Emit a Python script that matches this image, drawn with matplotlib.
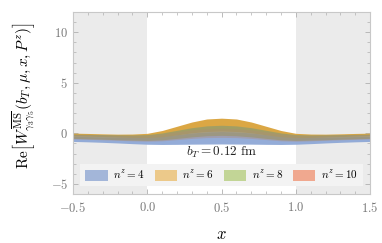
import matplotlib
matplotlib.use("Agg")
import matplotlib.pyplot as plt
from matplotlib.patches import Patch
from matplotlib.ticker import MultipleLocator

plt.rcParams['mathtext.fontset'] = 'cm'
plt.rcParams['font.family'] = ['DejaVu Serif']

x = [-0.5, -0.4, -0.3, -0.2, -0.1, 0.0, 0.1, 0.2, 0.3, 0.4, 0.5,
     0.6, 0.7, 0.8, 0.9, 1.0, 1.1, 1.2, 1.3, 1.4, 1.5]

labels = [r'$n^z=4$', r'$n^z=6$', r'$n^z=8$', r'$n^z=10$']

# band lower / upper edges
lo4 = [-0.8, -0.84, -0.89, -0.95, -1.02, -1.08, -1.1, -1.09, -1.07, -1.06, -1.05,
       -1.06, -1.07, -1.09, -1.1, -1.08, -1.02, -0.95, -0.89, -0.84, -0.8]
hi4 = [-0.3, -0.32, -0.35, -0.37, -0.38, -0.36, -0.28, -0.12, 0.04, 0.14, 0.18,
       0.14, 0.04, -0.12, -0.28, -0.36, -0.38, -0.37, -0.35, -0.32, -0.3]
lo6 = [-0.25, -0.28, -0.32, -0.37, -0.41, -0.42, -0.34, -0.15, 0.05, 0.18, 0.22,
       0.18, 0.05, -0.15, -0.34, -0.42, -0.41, -0.37, -0.32, -0.28, -0.25]
hi6 = [0.02, -0.01, -0.05, -0.08, -0.07, 0.0, 0.28, 0.7, 1.12, 1.42, 1.5,
       1.42, 1.12, 0.7, 0.28, 0.0, -0.07, -0.08, -0.05, -0.01, 0.02]
lo8 = [-0.5, -0.54, -0.58, -0.63, -0.67, -0.7, -0.64, -0.5, -0.35, -0.24, -0.2,
       -0.24, -0.35, -0.5, -0.64, -0.7, -0.67, -0.63, -0.58, -0.54, -0.5]
hi8 = [-0.08, -0.1, -0.12, -0.15, -0.16, -0.12, 0.04, 0.3, 0.56, 0.74, 0.8,
       0.74, 0.56, 0.3, 0.04, -0.12, -0.16, -0.15, -0.12, -0.1, -0.08]
lo10 = [-0.55, -0.59, -0.64, -0.69, -0.74, -0.78, -0.74, -0.62, -0.5, -0.42, -0.4,
        -0.42, -0.5, -0.62, -0.74, -0.78, -0.74, -0.69, -0.64, -0.59, -0.55]
hi10 = [-0.12, -0.13, -0.16, -0.19, -0.2, -0.18, -0.06, 0.15, 0.34, 0.46, 0.5,
        0.46, 0.34, 0.15, -0.06, -0.18, -0.2, -0.19, -0.16, -0.13, -0.12]

fill_colors = ['#8ea8d6', '#d9a23a', '#8f9c70', '#b08a78']
fill_alpha = [0.95, 0.95, 0.75, 0.4]
legend_colors = ['#a3b6d9', '#ecc98a', '#c2d596', '#f0a88f']

fig = plt.figure(figsize=(3.82, 2.43), dpi=100)
ax = fig.add_axes([0.191, 0.2016, 0.778, 0.749])

ax.axvspan(-0.5, 0.0, color='#ebebeb', zorder=0, lw=0)
ax.axvspan(1.0, 1.5, color='#ebebeb', zorder=0, lw=0)

bands = [(lo4, hi4), (lo6, hi6), (lo8, hi8), (lo10, hi10)]
for (lo, hi), c, a in zip(bands, fill_colors, fill_alpha):
    ax.fill_between(x, lo, hi, color=c, alpha=a, lw=0, zorder=2)

ax.text(0.5, -1.85, r'$b_T=0.12\ \mathrm{fm}$', ha='center', va='center',
        fontsize=9.5, color='#222222', zorder=3)

ax.set_xlim(-0.5, 1.5)
ax.set_ylim(-6, 12)
ax.xaxis.set_minor_locator(MultipleLocator(0.1))
ax.yaxis.set_minor_locator(MultipleLocator(1))
ax.tick_params(which='both', direction='in', top=True, right=True,
               colors='#b0b0b0', labelcolor='#777777', labelsize=9)
ax.tick_params(which='major', length=3.5, width=0.6)
ax.tick_params(which='minor', length=2, width=0.5)
ax.set_xticks([-0.5, 0, 0.5, 1.0, 1.5])
ax.set_xticklabels([r'$-0.5$', r'$0.0$', r'$0.5$', r'$1.0$', r'$1.5$'])
ax.set_yticks([-5, 0, 5, 10])
ax.set_yticklabels([r'$-5$', r'$0$', r'$5$', r'$10$'])
ax.tick_params(axis='x', pad=5)
for s in ax.spines.values():
    s.set_color('#c8c8c8')
    s.set_linewidth(0.8)

ax.set_xlabel(r'$x$', fontsize=12, labelpad=8)
ax.set_ylabel(r'$\mathrm{Re}\left[W^{\overline{\mathrm{MS}}}_{\gamma_3\gamma_5}(b_T,\mu,x,P^z)\right]$',
              fontsize=11)
ax.yaxis.set_label_coords(-0.12, 0.54)

handles = [Patch(facecolor=c, edgecolor='none') for c in legend_colors]
leg = ax.legend(handles, labels, loc='lower center', ncol=4, fontsize=8,
                frameon=True, facecolor='#f3f3f3', edgecolor='none', framealpha=1,
                bbox_to_anchor=(0.5, 0.012), handlelength=2.0, handleheight=1.2,
                columnspacing=0.9, handletextpad=0.5, borderpad=0.45, fancybox=False)
leg.set_zorder(5)

fig.savefig('out.png', dpi=100)
